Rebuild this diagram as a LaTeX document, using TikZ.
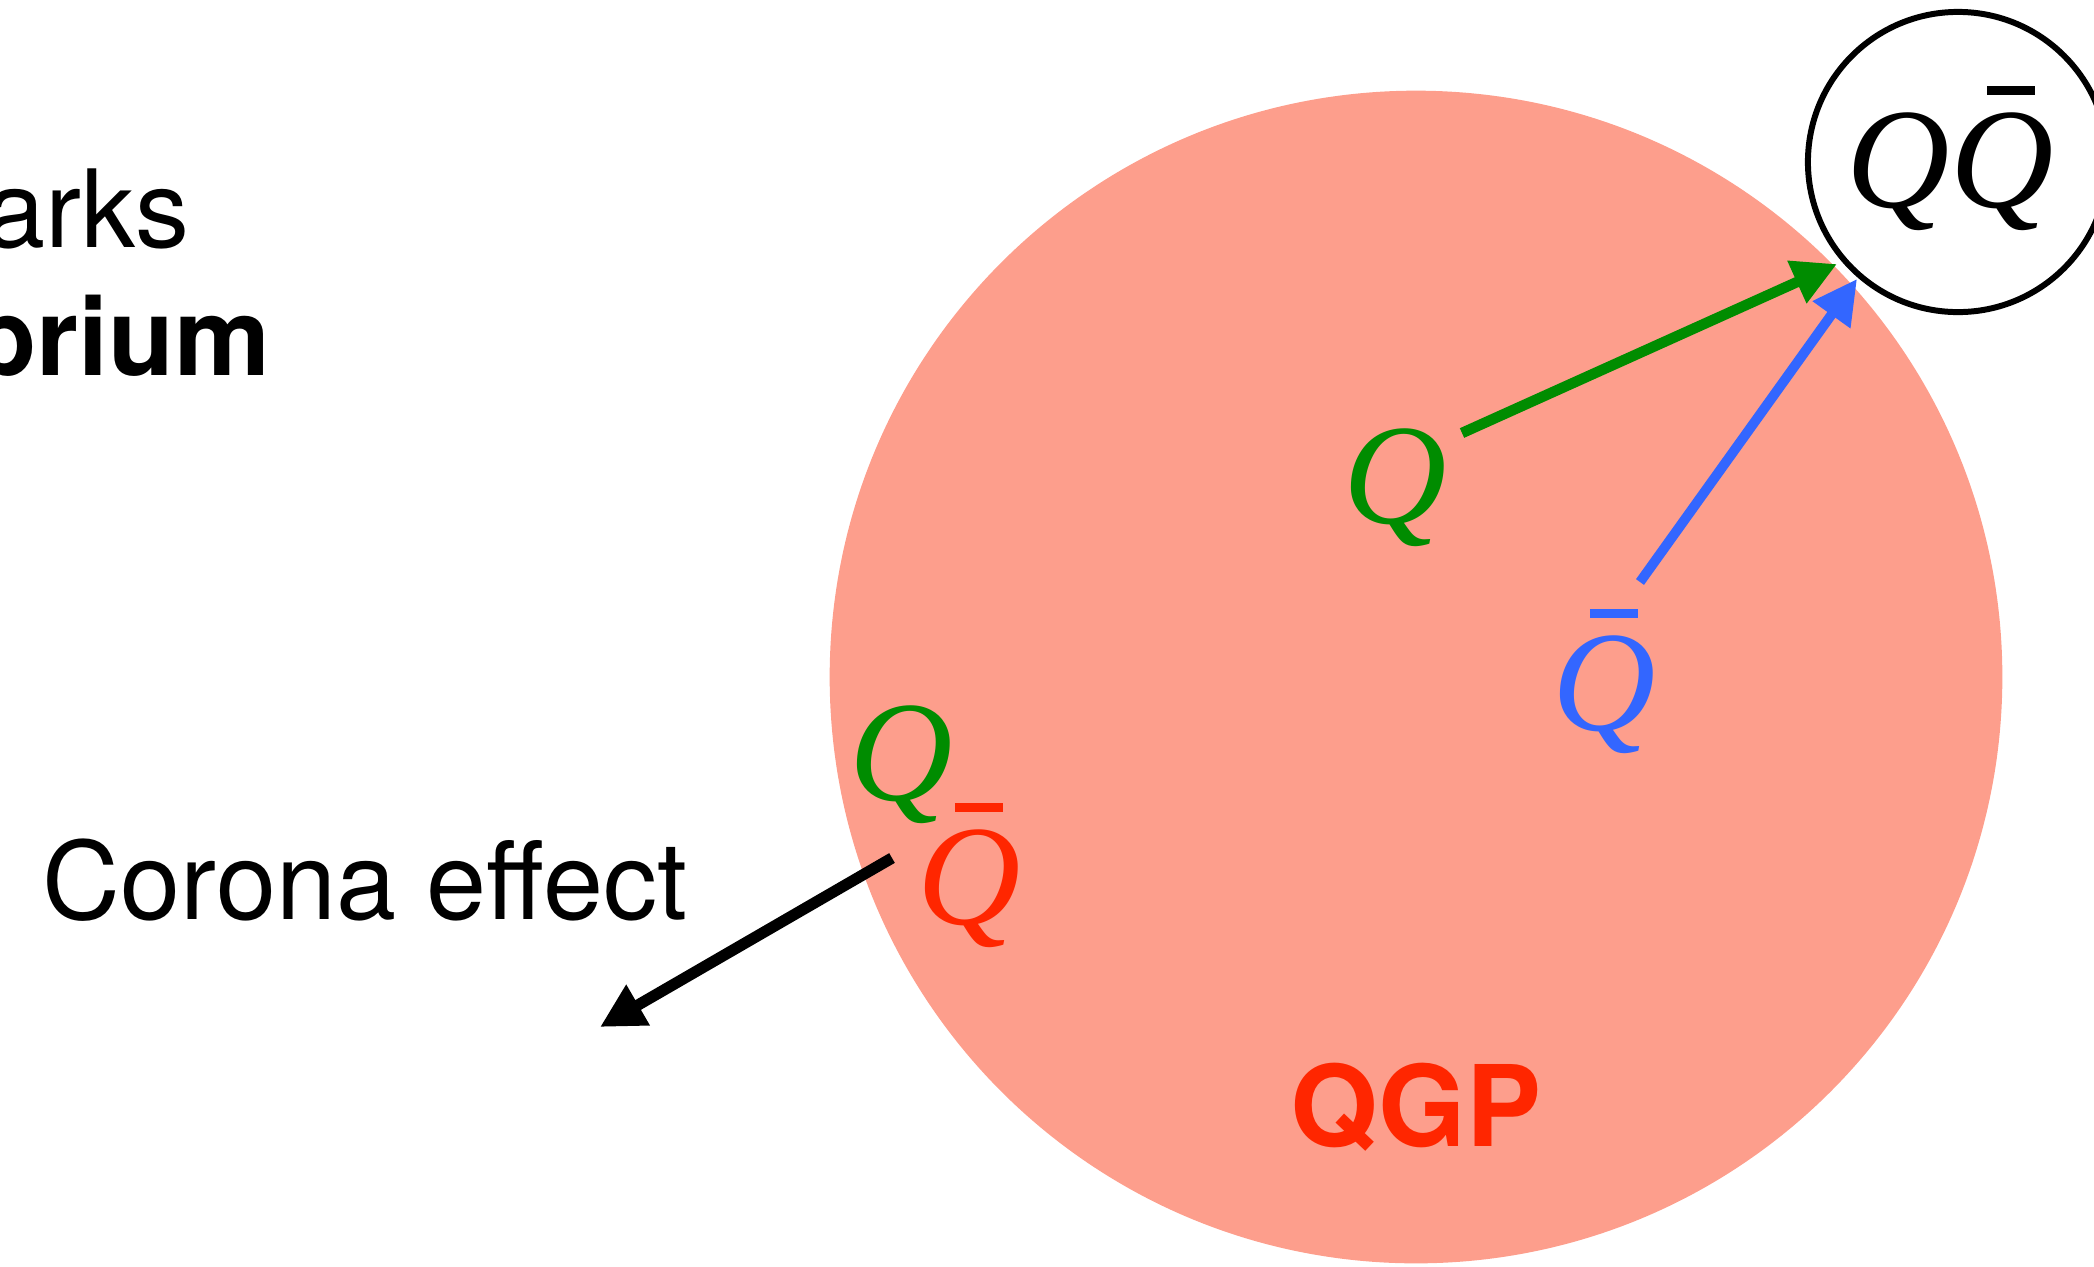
\documentclass[tikz,border=0pt]{standalone}
\usepackage{fontspec}
\setsansfont{TeX Gyre Heros}
\newfontfamily\qfont{Liberation Serif}
\usetikzlibrary{arrows.meta}
\definecolor{qgpfill}{RGB}{253,158,140}
\definecolor{qgpred}{RGB}{255,38,0}
\definecolor{qgreen}{RGB}{0,140,0}
\definecolor{qblue}{RGB}{51,102,255}
\newcommand{\barQ}{\rlap{\hspace{0.26em}\rule[0.78em]{0.335em}{0.063em}}Q}
\tikzset{
  quark/.style={inner sep=0pt, anchor=base west, font=\qfont\itshape\fontsize{40.7}{44}\selectfont},
  sftext/.style={inner sep=0pt, font=\sffamily\fontsize{30.7}{34}\selectfont},
  arr/.style={-{Triangle[length=0.44cm,width=0.44cm]}},
}

\begin{document}
\begin{tikzpicture}[x=0.01cm,y=-0.01cm]
  \useasboundingbox (0,0) rectangle (2094,1266);
  % plasma and bound state
  \node[circle, fill=qgpfill, inner sep=0pt, minimum size=11.72cm] (plasma) at (1416,677) {};
  \node[circle, draw, fill=white, line width=1.7pt, inner sep=0pt, minimum size=3cm] (bound) at (1958,162) {};
  \node[quark, anchor=base west] (pair) at (1846,207) {Q\barQ};
  % quarks
  \node[quark, qgreen] (qin) at (1343,523) {Q};
  \node[quark, qblue] (qbin) at (1552,730) {\barQ};
  \node[quark, qgreen] (qedge) at (849,800) {Q};
  \node[quark, qgpred] (qbedge) at (917,924) {\barQ};
  % labels
  \node[sftext, anchor=base east] (top1) at (190,247) {arks};
  \node[sftext, anchor=base east, font=\sffamily\bfseries\fontsize{30.7}{34}\selectfont] (top2) at (271,375) {brium};
  \node[sftext, anchor=base west] (corona) at (42,919) {Corona effect};
  \node[sftext, qgpred, font=\sffamily\bfseries\fontsize{32}{34}\selectfont] (qgp) at (1416,1107) {QGP};
  % arrows
  \coordinate (gstart) at (1462,433);
  \coordinate (gtip) at (1837,264);
  \coordinate (bstart) at (1640,582);
  \coordinate (btip) at (1857,279);
  \coordinate (kstart) at (892,858);
  \coordinate (ktip) at (600,1027);
  \draw[arr, qgreen, line width=3pt] (gstart) -- (gtip);
  \draw[arr, qblue, line width=2.8pt] (bstart) -- (btip);
  \draw[arr, line width=3.2pt] (kstart) -- (ktip);
\end{tikzpicture}
\end{document}
